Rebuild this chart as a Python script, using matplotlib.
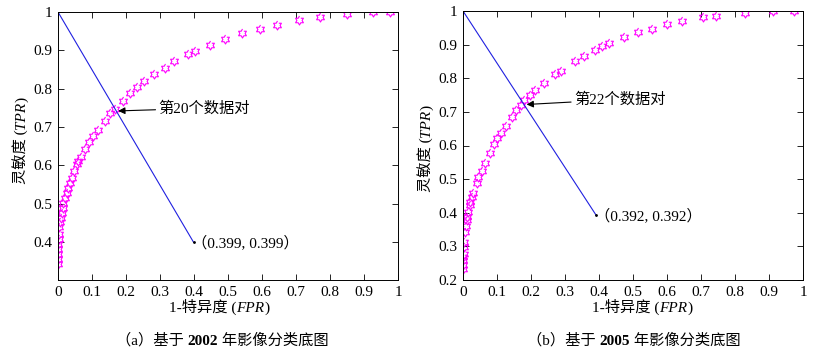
import numpy as np
import matplotlib
matplotlib.use('Agg')
import matplotlib.pyplot as plt

plt.rcParams['font.family'] = ['Liberation Serif', 'Noto Sans CJK SC']

# ROC points, 2002 base map (FPR, TPR)
fpr_2002 = [0.975, 0.925, 0.851, 0.772, 0.708, 0.643, 0.593, 0.540, 0.492, 0.446,
            0.404, 0.383, 0.341, 0.314, 0.281, 0.254, 0.233, 0.213, 0.190, 0.168,
            0.154, 0.137, 0.118, 0.102, 0.090, 0.078, 0.067, 0.060, 0.055, 0.047,
            0.042, 0.035, 0.029, 0.026, 0.021, 0.016, 0.014, 0.011, 0.008, 0.006,
            0.004, 0.003, 0.002, 0.001, 0.001, 0.000, 0.000, 0.000]
tpr_2002 = [1.000, 1.000, 0.994, 0.988, 0.979, 0.966, 0.956, 0.944, 0.929, 0.913,
            0.898, 0.890, 0.872, 0.855, 0.837, 0.820, 0.804, 0.788, 0.767, 0.747,
            0.736, 0.716, 0.693, 0.676, 0.660, 0.643, 0.623, 0.612, 0.603, 0.586,
            0.566, 0.553, 0.540, 0.529, 0.516, 0.503, 0.490, 0.477, 0.464, 0.451,
            0.438, 0.421, 0.408, 0.395, 0.382, 0.369, 0.356, 0.343]

# ROC points, 2005 base map
fpr_2005 = [0.974, 0.912, 0.830, 0.745, 0.707, 0.644, 0.601, 0.557, 0.516, 0.474,
            0.429, 0.410, 0.387, 0.355, 0.329, 0.288, 0.272, 0.238, 0.211, 0.198,
            0.180, 0.172, 0.157, 0.144, 0.126, 0.113, 0.100, 0.092, 0.079, 0.065,
            0.056, 0.045, 0.041, 0.030, 0.026, 0.022, 0.020, 0.016, 0.012, 0.011,
            0.009, 0.007, 0.004, 0.003, 0.002, 0.001, 0.000, 0.000, 0.000]
tpr_2005 = [1.000, 1.000, 0.993, 0.986, 0.981, 0.969, 0.960, 0.947, 0.937, 0.922,
            0.906, 0.897, 0.884, 0.865, 0.851, 0.822, 0.812, 0.786, 0.765, 0.751,
            0.735, 0.720, 0.705, 0.685, 0.658, 0.638, 0.621, 0.604, 0.577, 0.548,
            0.525, 0.505, 0.487, 0.459, 0.447, 0.432, 0.423, 0.403, 0.388, 0.378,
            0.360, 0.343, 0.313, 0.298, 0.278, 0.268, 0.259, 0.244, 0.234]

cut_2002 = 0.399
cut_2005 = 0.392
pair_2002 = 20
pair_2005 = 22

W, H = 813, 355

# six pointed star (Matlab 'hexagram')
ang = np.pi / 2 + np.arange(12) * np.pi / 6
rad = np.where(np.arange(12) % 2 == 0, 1.0, 0.577)
hexagram = list(zip(rad * np.cos(ang), rad * np.sin(ang)))

fig = plt.figure(figsize=(W / 100, H / 100), dpi=100)
renderer = fig.canvas.get_renderer()
ax1 = fig.add_axes([58 / W, 75 / H, 340 / W, 268 / H])
ax2 = fig.add_axes([463 / W, 75 / H, 340 / W, 269 / H])


def rich_text(cx, cy, pieces, rotate=False, size=11):
    # pieces: list of (string, style, weight); cx, cy in pixels from top-left
    widths = []
    for s, st, wt in pieces:
        t = fig.text(0, 0, s, fontsize=size, style=st, weight=wt)
        widths.append(t.get_window_extent(renderer).width)
        t.remove()
    total = sum(widths)
    pos = -total / 2
    for (s, st, wt), w in zip(pieces, widths):
        if rotate:
            x, y = cx + 5, H - cy + pos
            rot = 90
        else:
            x, y = cx + pos, H - cy - 5
            rot = 0
        fig.text(x / W, y / H, s, fontsize=size, style=st, weight=wt,
                 rotation=rot, rotation_mode='anchor', ha='left', va='baseline')
        pos += w


def draw_panel(ax, fpr, tpr, cut, pair, ylo, yticks, text_xy, tip_xy):
    ax.plot(fpr, tpr, linestyle='none', marker=hexagram, markersize=6.5,
            markerfacecolor='none', markeredgecolor='#ff00ff', markeredgewidth=0.8)
    ax.plot([0, cut], [1, cut], color='#2020e0', linewidth=0.8)
    ax.plot([cut], [cut], marker='.', color='k', markersize=2)
    ax.text(cut - 0.005, cut, '（%.3f, %.3f）' % (cut, cut), fontsize=11,
            ha='left', va='center')
    ax.annotate('第%d个数据对' % pair, xy=tip_xy, xytext=text_xy, fontsize=11,
                ha='left', va='center',
                arrowprops=dict(arrowstyle='-|>', color='k', lw=0.8,
                                mutation_scale=10, shrinkA=0, shrinkB=0))
    ax.set_xlim(0, 1)
    ax.set_ylim(ylo, 1)
    xt = np.round(np.arange(0, 1.01, 0.1), 1)
    ax.set_xticks(xt)
    ax.set_xticklabels(['%g' % v for v in xt])
    ax.set_yticks(yticks)
    ax.set_yticklabels(['%g' % v for v in yticks])
    ax.tick_params(direction='in', top=True, right=True, length=4, width=0.6,
                   labelsize=11, pad=4)
    for s in ax.spines.values():
        s.set_linewidth(0.7)


draw_panel(ax1, fpr_2002, tpr_2002, cut_2002, pair_2002, 0.301,
           np.round(np.arange(0.4, 1.01, 0.1), 1), (0.295, 0.749), (0.177, 0.742))
draw_panel(ax2, fpr_2005, tpr_2005, cut_2005, pair_2005, 0.2,
           np.round(np.arange(0.2, 1.01, 0.1), 1), (0.326, 0.737), (0.187, 0.722))

xlab = [('1-特异度 (', 'normal', 'normal'), ('FPR', 'italic', 'normal'), (')', 'normal', 'normal')]
ylab = [('灵敏度 (', 'normal', 'normal'), ('TPR', 'italic', 'normal'), (')', 'normal', 'normal')]
rich_text(219, 307, xlab)
rich_text(642, 307, xlab)
rich_text(20, 140, ylab, rotate=True)
rich_text(425, 148, ylab, rotate=True)
rich_text(222, 340, [('（a）基于 ', 'normal', 'normal'), ('2002', 'normal', 'bold'),
                     (' 年影像分类底图', 'normal', 'normal')])
rich_text(634, 340, [('（b）基于 ', 'normal', 'normal'), ('2005', 'normal', 'bold'),
                     (' 年影像分类底图', 'normal', 'normal')])

fig.savefig('out.png', dpi=100)
